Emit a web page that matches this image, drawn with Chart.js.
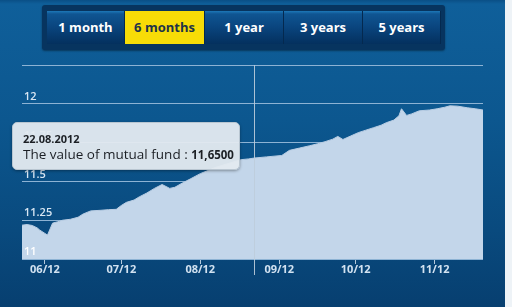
<!DOCTYPE html>
<html>
<head>
<meta charset="utf-8">
<script src="https://cdn.jsdelivr.net/npm/chart.js@4/dist/chart.umd.min.js"></script>
<style>
  html, body { margin: 0; padding: 0; width: 512px; height: 307px; overflow: hidden; }
  #wrap { position: relative; width: 512px; height: 307px;
    background: linear-gradient(to bottom, #0a4f86 0px, #0f5f9a 4px, #0c578f 120px, #094a7e 230px, #073f70 307px); }
  #strip { position: absolute; left: 505px; top: 0; width: 7px; height: 307px; background: #eef3f7; }
  canvas { position: absolute; left: 0; top: 0; }
  #panel { position: absolute; left: 42px; top: 5px; width: 403px; height: 45px; background: #07345f;
    border-radius: 3px; box-shadow: 0 1px 2px rgba(0,0,0,0.4); }
  .btn { position: absolute; top: 11px; height: 33px; text-align: center;
    font: bold 13px "Open Sans", "DejaVu Sans", sans-serif; line-height: 33px; color: #ffffff;
    background: linear-gradient(to bottom, #1d78b8 0px, #0f5592 3px, #0a4680 15px, #04305e 33px);
    border-right: 1px solid #04294f; box-sizing: border-box; }
  .btn.on { background: #f7dc07; color: #1d3349; }
  #tip { position: absolute; left: 12px; top: 122px; width: 228px; height: 48px; box-sizing: border-box;
    background: rgba(226,233,239,0.96); border: 1px solid #b9c6d1; border-radius: 5px;
    box-shadow: 0 1px 3px rgba(0,0,0,0.35); padding: 8px 0 0 10px; color: #1b1f24;
    font-family: "Open Sans", "DejaVu Sans", sans-serif; }
  #tip .d { font-weight: bold; font-size: 11px; line-height: 15px; }
  #tip .v { font-size: 13.5px; line-height: 17px; white-space: nowrap; }
  #tip .v b { font-size: 11.5px; }
</style>
</head>
<body>
<div id="wrap">
  <canvas id="c" width="512" height="307"></canvas>
  <div id="strip"></div>
  <div id="panel"></div>
  <div id="tip"><div class="d" id="tipDate"></div><div class="v"><span id="tipLabel"></span><b id="tipVal"></b></div></div>
</div>
<script>
// ---- data ----
const dates = ['2012-05-23','2012-05-25','2012-05-27','2012-05-29','2012-05-30','2012-06-01','2012-06-02','2012-06-04','2012-06-06','2012-06-08',
  '2012-06-11','2012-06-14','2012-06-16','2012-06-19','2012-06-23','2012-06-26','2012-06-29','2012-07-01','2012-07-03','2012-07-06','2012-07-08',
  '2012-07-11','2012-07-14','2012-07-17','2012-07-20','2012-07-22','2012-07-25','2012-07-28','2012-08-01','2012-08-04','2012-08-07','2012-08-10',
  '2012-08-13','2012-08-17','2012-08-20','2012-08-22','2012-08-27','2012-09-02','2012-09-05','2012-09-09','2012-09-13','2012-09-16','2012-09-19',
  '2012-09-22','2012-09-24','2012-09-26','2012-09-29','2012-10-02','2012-10-05','2012-10-08','2012-10-11','2012-10-13','2012-10-16','2012-10-18',
  '2012-10-19','2012-10-21','2012-10-23','2012-10-26','2012-10-30','2012-11-02','2012-11-05','2012-11-07','2012-11-10','2012-11-14','2012-11-17','2012-11-20'];
const values = [11.218,11.222,11.216,11.200,11.186,11.165,11.154,11.231,11.240,11.250,
  11.256,11.269,11.290,11.310,11.314,11.318,11.320,11.345,11.365,11.380,11.400,
  11.425,11.455,11.480,11.455,11.462,11.490,11.515,11.550,11.570,11.590,11.605,
  11.620,11.640,11.645,11.650,11.658,11.667,11.700,11.715,11.730,11.742,11.756,
  11.772,11.790,11.770,11.792,11.814,11.830,11.846,11.862,11.878,11.895,11.923,
  11.968,11.925,11.935,11.955,11.960,11.968,11.978,11.987,11.985,11.974,11.968,11.960];
const monthTicks = ['2012-06-01','2012-07-01','2012-08-01','2012-09-01','2012-10-01','2012-11-01'];
const monthLabels = ['06/12','07/12','08/12','09/12','10/12','11/12'];
const yTickValues = [11, 11.25, 11.5, 11.75, 12, 12.25];
const yTickLabels = ['11', '11.25', '11.5', '11.75', '12', ''];
const rangeNames = ['1 month', '6 months', '1 year', '3 years', '5 years'];
const activeRange = 1;
const selectedDate = '2012-08-22';
const selectedValue = '11,6500';
const selectedLabel = 'The value of mutual fund : ';
const startDate = '2012-05-23', endDate = '2012-11-20';

// ---- helpers ----
function dayNum(s){ const p = s.split('-').map(Number); return Date.UTC(p[0], p[1]-1, p[2]) / 86400000; }
const pts = dates.map((d, i) => ({ x: dayNum(d), y: values[i] }));

// ---- buttons ----
const btnEdges = [47, 125, 205, 284, 363, 441];
const wrap = document.getElementById('wrap');
rangeNames.forEach((n, i) => {
  const b = document.createElement('div');
  b.className = 'btn' + (i === activeRange ? ' on' : '');
  b.style.left = btnEdges[i] + 'px';
  b.style.width = (btnEdges[i+1] - btnEdges[i]) + 'px';
  b.textContent = n;
  wrap.appendChild(b);
});
const sp = selectedDate.split('-');
document.getElementById('tipDate').textContent = sp[2] + '.' + sp[1] + '.' + sp[0];
document.getElementById('tipLabel').textContent = selectedLabel;
document.getElementById('tipVal').textContent = selectedValue;

const crosshair = {
  id: 'crosshair',
  afterDatasetsDraw(chart) {
    const x = Math.round(chart.scales.x.getPixelForValue(dayNum(selectedDate))) + 0.5;
    const ctx = chart.ctx;
    ctx.save();
    ctx.strokeStyle = 'rgba(190,205,220,0.9)';
    ctx.lineWidth = 1;
    ctx.beginPath();
    ctx.moveTo(x, chart.chartArea.top);
    ctx.lineTo(x, chart.chartArea.bottom + 16);
    ctx.stroke();
    ctx.restore();
  }
};

const font = { family: '"Open Sans", "DejaVu Sans", sans-serif', size: 11, weight: 'bold' };

new Chart(document.getElementById('c'), {
  type: 'line',
  data: { datasets: [{
    data: pts,
    fill: 'start',
    backgroundColor: '#c3d6ea',
    borderColor: '#b9cde3',
    borderWidth: 1,
    pointRadius: 0,
    tension: 0
  }]},
  options: {
    responsive: false,
    animation: false,
    events: [],
    layout: { padding: { left: 22, right: 29, top: 65, bottom: 0 } },
    plugins: { legend: { display: false }, tooltip: { enabled: false } },
    scales: {
      x: {
        type: 'linear',
        min: dayNum(startDate), max: dayNum(endDate),
        afterBuildTicks(s) { s.ticks = monthTicks.map(d => ({ value: dayNum(d) })); },
        afterFit(s) { s.height = 48; },
        border: { display: false },
        grid: { drawOnChartArea: false, drawTicks: true, tickLength: 5, tickColor: 'rgba(200,215,230,0.9)' },
        ticks: { autoSkip: false, maxRotation: 0, padding: -1, color: '#d2e2f1', font,
          callback: (v, i) => monthLabels[i] }
      },
      y: {
        min: 11, max: 12.25,
        afterBuildTicks(s) { s.ticks = yTickValues.map(v => ({ value: v })); },
        afterFit(s) { s.width = 0; },
        border: { display: false },
        grid: { color: '#8db3d4', lineWidth: 1, drawTicks: false, z: -1 },
        ticks: { z: 1, mirror: true, padding: 2, labelOffset: -7, autoSkip: false,
          color: (c) => c.index === 0 ? '#ffffff' : '#d8e6f3',
          font: { family: font.family, size: 11, weight: '600' },
          callback: (v, i) => yTickLabels[i] }
      }
    }
  },
  plugins: [crosshair]
});
</script>
</body>
</html>
